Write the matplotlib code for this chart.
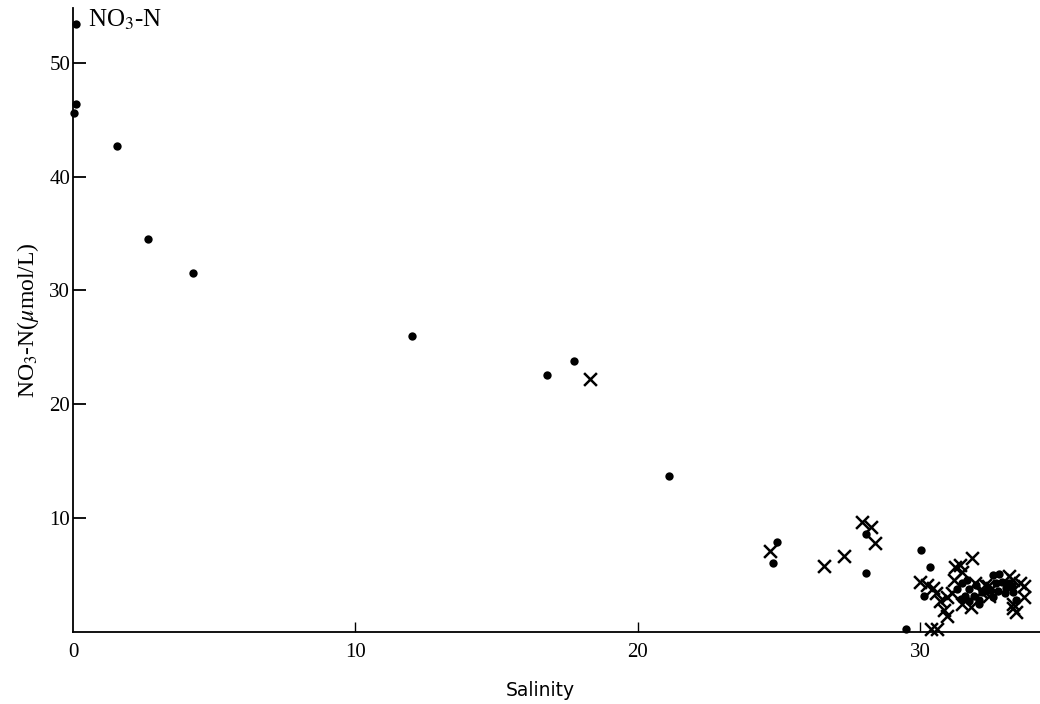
import matplotlib
matplotlib.use("Agg")
import matplotlib.pyplot as plt

# ---------------------- data
dot_sal = [0.1, 0.1, 0.05, 1.55, 2.65, 4.25, 12.0, 16.8, 17.75, 21.1,
           24.95, 24.8, 28.1, 28.1, 29.5, 30.05, 30.35, 30.15, 31.3, 31.5,
           31.75, 31.6, 31.75, 32.1, 32.2, 32.6, 32.7, 32.6, 32.9, 33.15,
           33.3, 33.4, 33.0, 32.1, 32.8, 31.65, 31.9, 32.45, 32.75, 33.05,
           33.25, 31.45, 32.0]
dot_no3 = [53.4, 46.4, 45.6, 42.7, 34.5, 31.5, 26.0, 22.6, 23.8, 13.7,
           7.9, 6.1, 8.6, 5.2, 0.3, 7.2, 5.7, 3.2, 3.8, 4.3,
           3.8, 3.2, 2.7, 2.8, 3.5, 5.0, 4.3, 3.1, 4.4, 4.3,
           3.5, 2.8, 3.4, 2.5, 5.1, 4.6, 3.2, 3.7, 3.6, 3.9,
           4.0, 2.9, 4.1]

cross_sal = [18.3, 24.7, 26.6, 27.3, 27.95, 28.25, 28.4, 30.0, 30.25, 30.45,
             30.55, 30.7, 30.95, 30.85, 30.95, 30.4, 30.6, 31.25, 31.2, 31.4,
             31.5, 31.85, 31.95, 32.15, 32.4, 32.45, 33.15, 33.55, 33.7, 33.3,
             33.4, 33.7, 31.15, 32.3, 32.55, 33.3, 33.3, 31.5, 31.8]
cross_no3 = [22.2, 7.1, 5.8, 6.7, 9.7, 9.2, 7.8, 4.4, 4.1, 3.9,
             3.4, 2.7, 3.1, 1.9, 1.4, 0.3, 0.3, 5.7, 4.6, 5.9,
             5.3, 6.5, 4.3, 3.5, 4.0, 3.2, 4.9, 4.3, 4.0, 2.5,
             1.8, 3.1, 3.4, 4.1, 3.9, 4.6, 2.1, 2.5, 2.2]

xticks = [0, 10, 20, 30]
yticks = [10, 20, 30, 40, 50]

plt.rcParams['font.family'] = ['Liberation Serif', 'DejaVu Serif']
plt.rcParams['mathtext.fontset'] = 'stix'

W, H = 1040, 704
fig = plt.figure(figsize=(W / 100, H / 100), dpi=100)
ax = fig.add_axes([73 / W, 72 / H, (W - 73) / W, (632 - 8) / H])

ax.scatter(dot_sal, dot_no3, s=36, c='black', marker='o', linewidths=0, zorder=3,
           clip_on=False)
ax.scatter(cross_sal, cross_no3, s=85, c='black', marker='x', linewidths=1.8, zorder=3,
           clip_on=False)

ax.set_xlim(0, 34.25)
ax.set_ylim(0, 54.8)

for side in ['top', 'right']:
    ax.spines[side].set_visible(False)
for side in ['left', 'bottom']:
    ax.spines[side].set_linewidth(1.3)

ax.set_xticks(xticks)
ax.set_yticks(yticks)
ax.tick_params(axis='x', direction='in', length=7, width=1.0, labelsize=15, pad=8)
ax.tick_params(axis='y', direction='in', length=9, width=1.3, labelsize=15, pad=2)
ax.xaxis.get_major_ticks()[0].tick1line.set_visible(False)
ax.get_xticklabels()[0].set_x(-0.25)

ax.set_ylabel(r'NO$_3$-N($\mu$mol/L)', fontsize=17, labelpad=6)

fig.text(540 / W, 1 - 690 / H, 'Salinity', family='DejaVu Sans', fontsize=13.5,
         ha='center', va='center')
fig.text(88 / W, 1 - 20 / H, r'NO$_3$-N', fontsize=18, ha='left', va='center')

fig.savefig('out.png', dpi=100)
